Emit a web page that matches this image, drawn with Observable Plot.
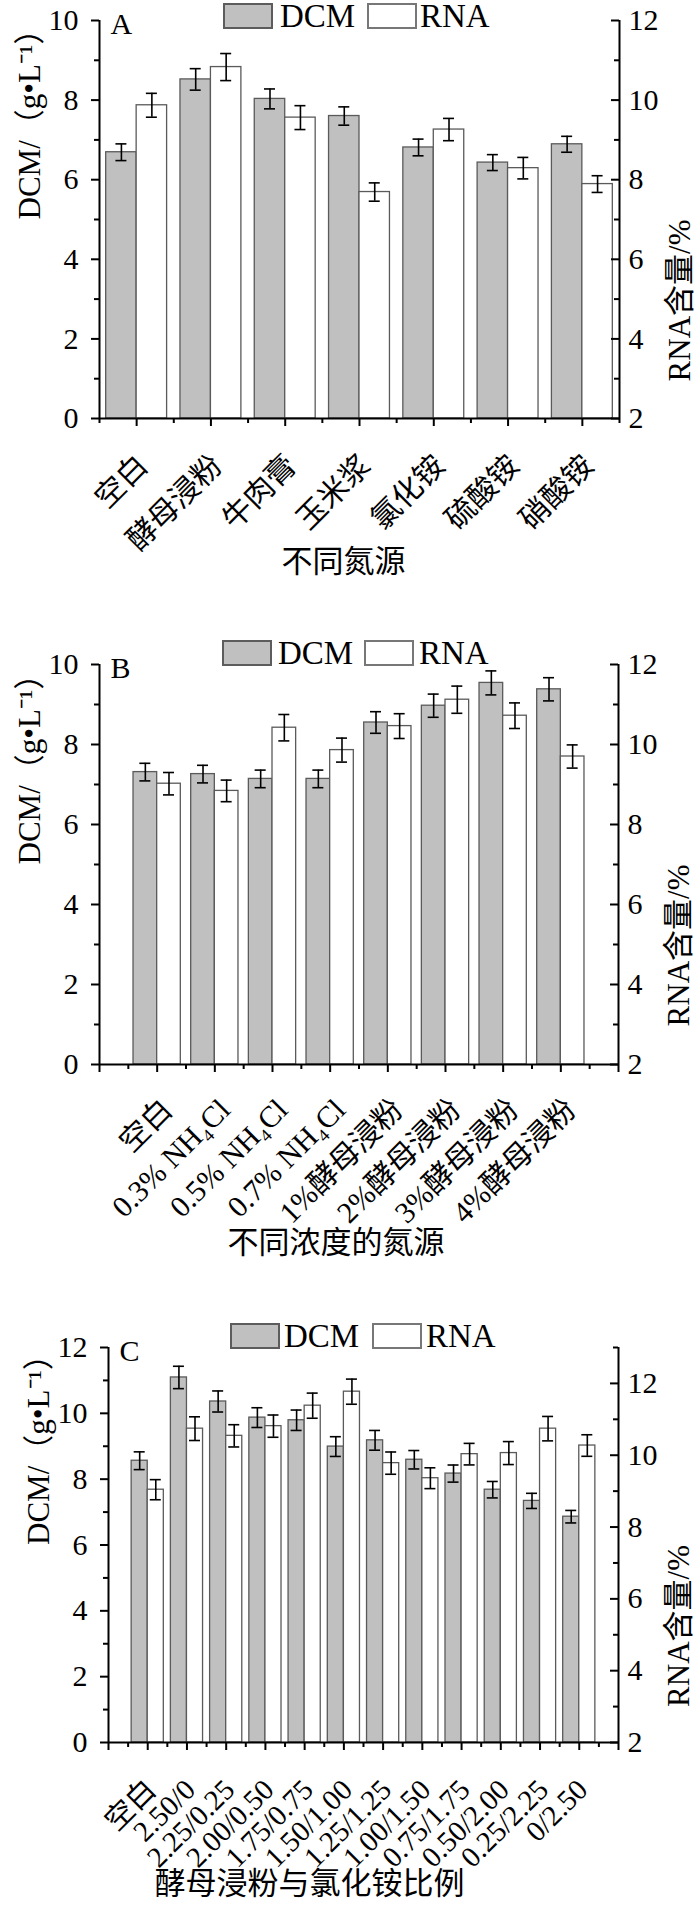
<!DOCTYPE html>
<html>
<head>
<meta charset="utf-8">
<script src="https://cdn.jsdelivr.net/npm/d3@7"></script>
<script src="https://cdn.jsdelivr.net/npm/@observablehq/plot@0.6"></script>
<style>
  body { margin: 0; background: #fff; width: 697px; }
  .panel { position: relative; width: 697px; }
  .panel svg { display: block; }
  .lg { position: absolute; font-family: "Liberation Serif", "Times New Roman", serif; font-size: 33px; line-height: 33px; color: #000; white-space: nowrap; }
  .box { position: absolute; box-sizing: border-box; width: 50px; height: 26px; border: 2px solid #5c5c5c; }
</style>
</head>
<body>
<div id="A" class="panel"></div>
<div id="B" class="panel"></div>
<div id="C" class="panel"></div>
<script>
// ---------- data ----------
const seriesNames = ["DCM", "RNA"];
const leftTitle = "DCM/（g•L⁻¹）";
const rightTitle = "RNA含量/%";

// Panel A
const catsA = ["空白", "酵母浸粉", "牛肉膏", "玉米浆", "氯化铵", "硫酸铵", "硝酸铵"];
const dcmA = [6.69, 8.52, 8.03, 7.60, 6.81, 6.43, 6.89];
const dcmErrA = [0.21, 0.27, 0.25, 0.23, 0.21, 0.20, 0.20];
const rnaA = [9.87, 10.83, 9.56, 7.69, 9.26, 8.29, 7.89];
const rnaErrA = [0.30, 0.34, 0.30, 0.23, 0.28, 0.27, 0.21];
const xTitleA = "不同氮源";
const leftTicksA = [0, 2, 4, 6, 8, 10];
const leftMinorA = [1, 3, 5, 7, 9];
const rightTicksA = [2, 4, 6, 8, 10, 12];
const rightMinorA = [3, 5, 7, 9, 11];

// Panel B
const catsB = ["空白", "0.3% NH₄Cl", "0.5% NH₄Cl", "0.7% NH₄Cl", "1%酵母浸粉", "2%酵母浸粉", "3%酵母浸粉", "4%酵母浸粉"];
const dcmB = [7.31, 7.26, 7.14, 7.14, 8.55, 8.97, 9.54, 9.38];
const dcmErrB = [0.22, 0.22, 0.22, 0.22, 0.27, 0.29, 0.30, 0.29];
const rnaB = [9.02, 8.84, 10.42, 9.86, 10.46, 11.12, 10.72, 9.70];
const rnaErrB = [0.28, 0.27, 0.33, 0.30, 0.31, 0.34, 0.32, 0.29];
const xTitleB = "不同浓度的氮源";
const leftTicksB = [0, 2, 4, 6, 8, 10];
const leftMinorB = [1, 3, 5, 7, 9];
const rightTicksB = [2, 4, 6, 8, 10, 12];
const rightMinorB = [3, 5, 7, 9, 11];

// Panel C
const catsC = ["空白", "2.50/0", "2.25/0.25", "2.00/0.50", "1.75/0.75", "1.50/1.00", "1.25/1.25", "1.00/1.50", "0.75/1.75", "0.50/2.00", "0.25/2.25", "0/2.50"];
const dcmC = [8.56, 11.09, 10.36, 9.87, 9.79, 8.99, 9.18, 8.59, 8.17, 7.68, 7.34, 6.86];
const dcmErrC = [0.27, 0.34, 0.32, 0.30, 0.31, 0.30, 0.30, 0.28, 0.26, 0.25, 0.23, 0.19];
const rnaC = [9.04, 10.74, 10.54, 10.81, 11.38, 11.77, 9.78, 9.36, 10.03, 10.06, 10.74, 10.27];
const rnaErrC = [0.28, 0.33, 0.31, 0.31, 0.35, 0.35, 0.31, 0.29, 0.30, 0.32, 0.34, 0.30];
const xTitleC = "酵母浸粉与氯化铵比例";
const leftTicksC = [0, 2, 4, 6, 8, 10, 12];
const leftMinorC = [1, 3, 5, 7, 9, 11];
const rightTicksC = [2, 4, 6, 8, 10, 12];
const rightMinorC = [3, 5, 7, 9, 11, 13];

// ---------- drawing ----------
const FONT = '"Liberation Serif", "Times New Roman", "Noto Sans CJK SC", serif';
const W = 697;

function panel(cfg) {
  const {el, letter, cats, dcm, dcmErr, rna, rnaErr, xTitle,
         xDomain, yDomain, rDomain, leftTicks, leftMinor, rightTicks, rightMinor,
         height, mt, mb, ml, mr, lab, xt, legend} = cfg;
  const k = (yDomain[1] - yDomain[0]) / (rDomain[1] - rDomain[0]);
  const toLeft = r => (r - rDomain[0]) * k + yDomain[0];
  const fromLeft = v => Math.round((v - yDomain[0]) / k + rDomain[0]);
  const bw = 0.41;
  const rows = cats.map((c, i) => ({
    cat: c, pos: i + 1,
    dcm: dcm[i], de: dcmErr[i],
    rna: toLeft(rna[i]), re: rnaErr[i] * k
  }));
  const fw = W - ml - mr, fh = height - mt - mb;
  const cap = 5.5 / (fw / (xDomain[1] - xDomain[0]));
  const xMajor = d3.range(Math.ceil(xDomain[0]), xDomain[1] + 0.01, 1);
  const xMinor = d3.range(xDomain[0], xDomain[1] + 0.01, 0.5).filter(v => !Number.isInteger(v));
  const barStroke = "#5a5a5a";

  const errMarks = (cx, val, err) => [
    Plot.ruleX(rows, {x: cx, y1: d => val(d) - err(d), y2: d => val(d) + err(d), stroke: "#000", strokeWidth: 1.6}),
    Plot.ruleY(rows, {y: d => val(d) + err(d), x1: d => cx(d) - cap, x2: d => cx(d) + cap, stroke: "#000", strokeWidth: 1.6}),
    Plot.ruleY(rows, {y: d => val(d) - err(d), x1: d => cx(d) - cap, x2: d => cx(d) + cap, stroke: "#000", strokeWidth: 1.6})
  ];

  const svg = Plot.plot({
    width: W, height,
    marginTop: mt, marginBottom: mb, marginLeft: ml, marginRight: mr,
    style: {fontFamily: FONT, fontSize: "30px", background: "transparent", color: "#000"},
    x: {domain: xDomain, axis: null},
    y: {domain: yDomain, axis: null},
    marks: [
      Plot.rect(rows, {x1: d => d.pos - bw, x2: d => d.pos, y1: yDomain[0], y2: "dcm", fill: "#c0c0c0", stroke: barStroke, strokeWidth: 1.3}),
      Plot.rect(rows, {x1: d => d.pos, x2: d => d.pos + bw, y1: yDomain[0], y2: "rna", fill: "#fff", stroke: barStroke, strokeWidth: 1.3}),
      ...errMarks(d => d.pos - bw / 2, d => d.dcm, d => d.de),
      ...errMarks(d => d.pos + bw / 2, d => d.rna, d => d.re),
      // axis lines
      Plot.ruleY([yDomain[0]], {stroke: "#000", strokeWidth: 2}),
      Plot.ruleX(xDomain, {stroke: "#000", strokeWidth: 2}),
      // left axis
      Plot.axisY(leftTicks, {anchor: "left", tickSize: 8, tickPadding: 13, strokeWidth: 2, fontSize: 30, label: null}),
      Plot.tickY(leftMinor, {y: d => d, insetLeft: -5, insetRight: fw, stroke: "#000", strokeWidth: 2}),
      // right axis (ticks inward)
      Plot.axisY(rightTicks.map(toLeft), {anchor: "right", tickSize: 0, tickPadding: 9, fontSize: 30, tickFormat: fromLeft, label: null}),
      Plot.tickY(rightTicks.map(toLeft), {y: d => d, insetLeft: fw - 8, stroke: "#000", strokeWidth: 2}),
      Plot.tickY(rightMinor.map(toLeft), {y: d => d, insetLeft: fw - 5, stroke: "#000", strokeWidth: 2}),
      // x ticks (outward)
      Plot.tickX(xMajor, {x: d => d, insetTop: fh, insetBottom: -8, stroke: "#000", strokeWidth: 2}),
      Plot.tickX(xMinor, {x: d => d, insetTop: fh, insetBottom: -5, stroke: "#000", strokeWidth: 2}),
      // category labels
      Plot.text(rows, {x: "pos", frameAnchor: "bottom", text: "cat", rotate: -45, textAnchor: "end", lineAnchor: "bottom", dx: lab.dx, dy: lab.dy, fontSize: lab.fs}),
      // panel letter
      Plot.text([letter], {text: d => d, frameAnchor: "top-left", textAnchor: "start", lineAnchor: "top", dx: 11, dy: -8, fontSize: 30}),
      // axis titles
      Plot.text([leftTitle], {text: d => d, frameAnchor: "left", rotate: -90, dx: -69, fontSize: 31}),
      Plot.text([rightTitle], {text: d => d, frameAnchor: "right", rotate: -90, dx: 61, fontSize: 31}),
      Plot.text([xTitle], {text: d => d, frameAnchor: "bottom", dx: xt.dx, dy: xt.dy, fontSize: 31})
    ]
  });
  const host = document.getElementById(el);
  host.appendChild(svg);

  // legend overlay
  const mk = (cls, left, top, html, extra) => {
    const d = document.createElement("div");
    d.className = cls;
    d.style.left = left + "px";
    d.style.top = top + "px";
    if (html) d.textContent = html;
    if (extra) Object.assign(d.style, extra);
    host.appendChild(d);
  };
  mk("box", legend.b1, legend.top, null, {background: "#c0c0c0"});
  mk("lg", legend.t1, legend.top - 3, seriesNames[0]);
  mk("box", legend.b2, legend.top, null, {background: "#fff", borderColor: "#777"});
  mk("lg", legend.t2, legend.top - 3, seriesNames[1]);
}

panel({
  el: "A", letter: "A", cats: catsA, dcm: dcmA, dcmErr: dcmErrA, rna: rnaA, rnaErr: rnaErrA, xTitle: xTitleA,
  xDomain: [0.5, 7.5], yDomain: [0, 10], rDomain: [2, 12],
  leftTicks: leftTicksA, leftMinor: leftMinorA, rightTicks: rightTicksA, rightMinor: rightMinorA,
  height: 600, mt: 20, mb: 182, ml: 99, mr: 78,
  lab: {dx: 13, dy: 49, fs: 30}, xt: {dx: -16, dy: 153},
  legend: {top: 3, b1: 223, t1: 280, b2: 367, t2: 420}
});
panel({
  el: "B", letter: "B", cats: catsB, dcm: dcmB, dcmErr: dcmErrB, rna: rnaB, rnaErr: rnaErrB, xTitle: xTitleB,
  xDomain: [0, 9], yDomain: [0, 10], rDomain: [2, 12],
  leftTicks: leftTicksB, leftMinor: leftMinorB, rightTicks: rightTicksB, rightMinor: rightMinorB,
  height: 690, mt: 64, mb: 226, ml: 99, mr: 79,
  lab: {dx: 17, dy: 47, fs: 30}, xt: {dx: -23, dy: 188},
  legend: {top: 40, b1: 222, t1: 278, b2: 364, t2: 419}
});
panel({
  el: "C", letter: "C", cats: catsC, dcm: dcmC, dcmErr: dcmErrC, rna: rnaC, rnaErr: rnaErrC, xTitle: xTitleC,
  xDomain: [0, 13], yDomain: [0, 12], rDomain: [2, 13],
  leftTicks: leftTicksC, leftMinor: leftMinorC, rightTicks: rightTicksC, rightMinor: rightMinorC,
  height: 620, mt: 57, mb: 168, ml: 108, mr: 79,
  lab: {dx: 10, dy: 49, fs: 29}, xt: {dx: -54, dy: 151},
  legend: {top: 33, b1: 230, t1: 284, b2: 372, t2: 426}
});
</script>
</body>
</html>
